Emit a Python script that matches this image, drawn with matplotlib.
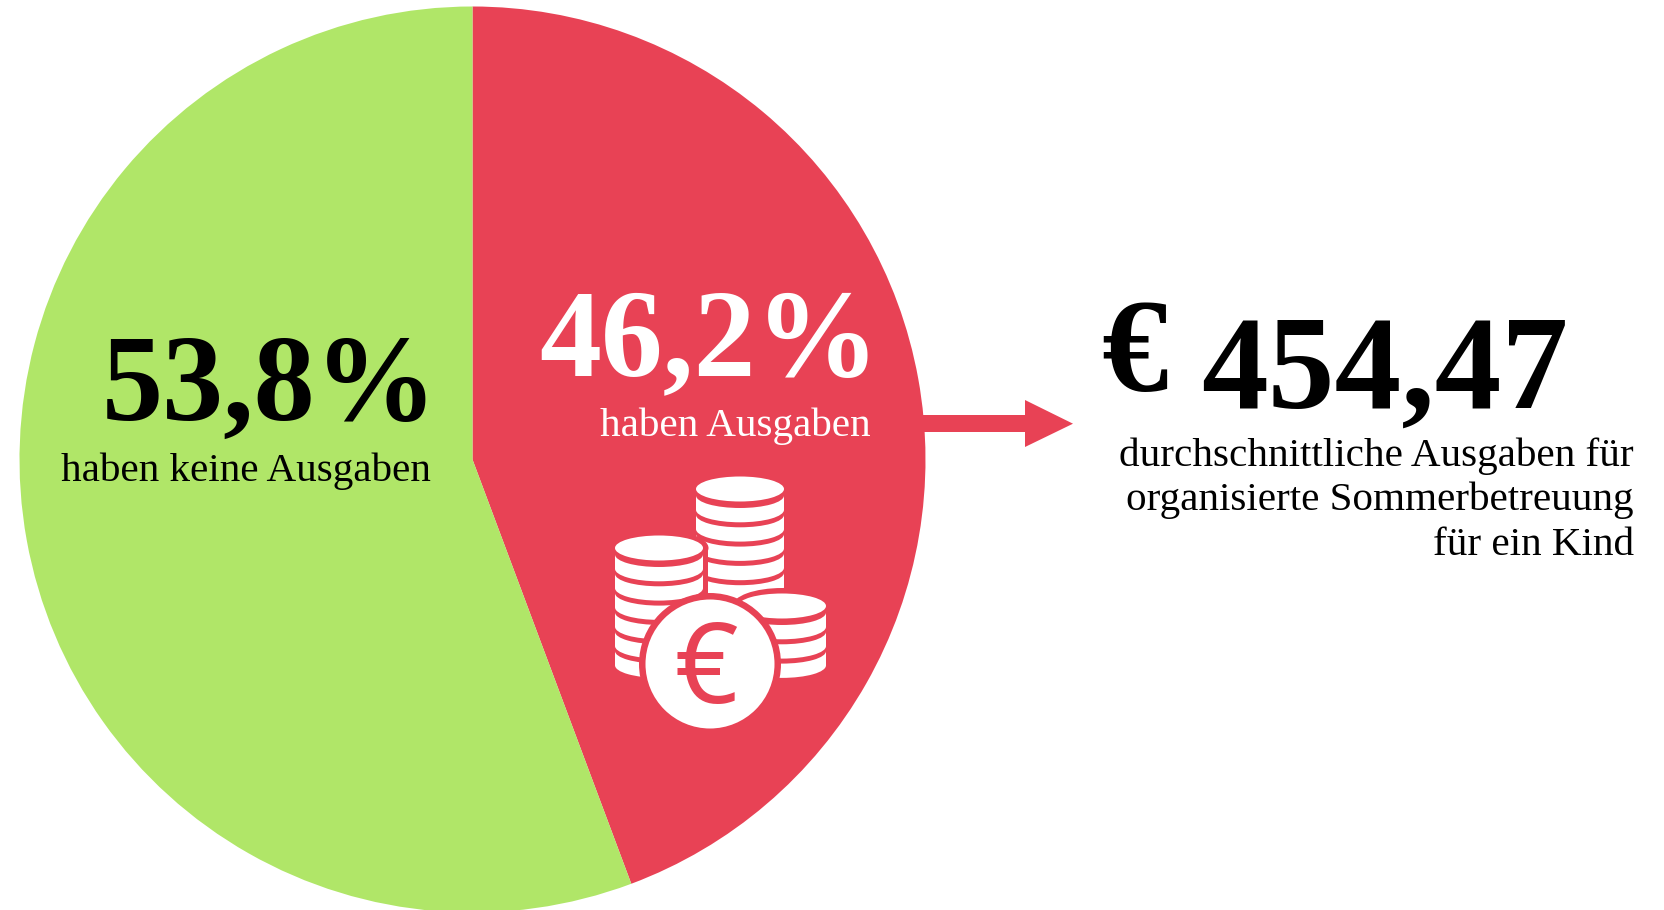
import matplotlib
matplotlib.use('Agg')
import matplotlib.pyplot as plt
from matplotlib.patches import Circle, Ellipse, Polygon, Rectangle

# wedge shares as drawn in the picture (the drawn angle is a bit off the printed labels)
shares = [44.3, 55.7]
colors = ['#E84255', '#B0E668']
share_labels = ['46,2%', '53,8%']
share_texts = ['haben Ausgaben', 'haben keine Ausgaben']
amount = '454,47'
amount_lines = ['durchschnittliche Ausgaben für', 'organisierte Sommerbetreuung', 'für ein Kind']

W, H = 1665, 910
red = colors[0]
serif = ['Liberation Serif', 'DejaVu Serif']


def Y(y):
    # picture pixels count from the top
    return H - y


fig = plt.figure(figsize=(W / 100, H / 100), dpi=100)
ax = fig.add_axes([0, 0, 1, 1])
ax.pie(shares, colors=colors, startangle=90, counterclock=False,
       center=(472.5, Y(459.5)), radius=453, frame=True)
ax.set_xlim(0, W)
ax.set_ylim(0, H)
ax.set_aspect('equal')
ax.set_axis_off()

# arrow to the amount
ax.add_patch(Rectangle((922, Y(432)), 104, 17, color=red, lw=0))
ax.add_patch(Polygon([(1025, Y(400)), (1073, Y(423.7)), (1025, Y(447))], closed=True, color=red, lw=0))


# coin icon
def coin(cx, cy, n, z, outline=False):
    rx, ry, thick, step, off = 44, 12.5, 14.3, 19.3, 6.5
    bottom = cy + off + (n - 1) * step + thick
    if outline:
        pad = 5.5
        ax.add_patch(Ellipse((cx, Y(cy)), 2 * (rx + pad), 2 * (ry + pad), color=red, lw=0, zorder=z))
        ax.add_patch(Rectangle((cx - rx - pad, Y(bottom)), 2 * (rx + pad), bottom - cy, color=red, lw=0, zorder=z))
        ax.add_patch(Ellipse((cx, Y(bottom)), 2 * (rx + pad), 2 * (ry + pad), color=red, lw=0, zorder=z))
    for i in range(n - 1, -1, -1):
        top = cy + off + i * step
        ax.add_patch(Ellipse((cx, Y(top + thick)), 2 * rx, 2 * ry, color='white', lw=0, zorder=z))
        ax.add_patch(Rectangle((cx - rx, Y(top + thick)), 2 * rx, thick, color='white', lw=0, zorder=z))
        ax.add_patch(Ellipse((cx, Y(top)), 2 * rx, 2 * ry, color=red, lw=0, zorder=z))
    ax.add_patch(Ellipse((cx, Y(cy)), 2 * rx, 2 * ry, color='white', lw=0, zorder=z))


coin(740, 489, 5, 3)
coin(782, 606, 3, 4, outline=True)
coin(659, 548, 6, 5, outline=True)
ax.add_patch(Circle((710, Y(664)), 71, color=red, lw=0, zorder=6))
ax.add_patch(Circle((710, Y(664)), 64.5, color='white', lw=0, zorder=7))
ax.text(706, Y(660), '€', color=red, fontsize=80, family='Noto Sans', fontweight='semibold',
        ha='center', va='center_baseline', zorder=8)

# shares
ax.text(709, Y(375), share_labels[0], color='white', fontsize=89, fontweight='bold', family=serif, ha='center', va='baseline')
ax.text(871, Y(436), share_texts[0], color='white', fontsize=29.6, family=serif, ha='right', va='baseline')
ax.text(270, Y(420), share_labels[1], color='black', fontsize=88, fontweight='bold', family=serif, ha='center', va='baseline')
ax.text(431, Y(481), share_texts[1], color='black', fontsize=29.6, family=serif, ha='right', va='baseline')

# amount
ax.text(1135, Y(391), '€', color='black', fontsize=96, fontweight='bold', family=serif, ha='center', va='baseline')
ax.text(1568, Y(408), amount, color='black', fontsize=96, fontweight='bold', family=serif, ha='right', va='baseline')
for line, base in zip(amount_lines, [466, 510, 555]):
    ax.text(1634, Y(base), line, color='black', fontsize=29.6, family=serif, ha='right', va='baseline')

fig.savefig('out.png', dpi=100, facecolor='white')
